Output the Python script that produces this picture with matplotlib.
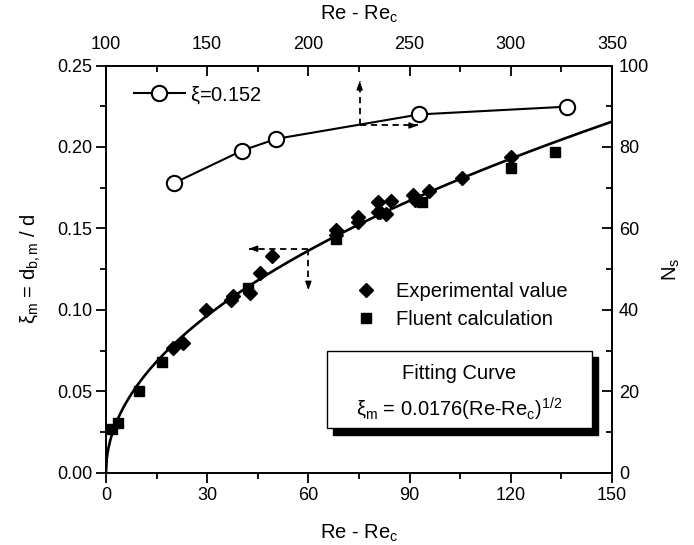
import numpy as np
import matplotlib
matplotlib.use('Agg')
import matplotlib.pyplot as plt
from matplotlib.patches import Rectangle
from matplotlib.ticker import MultipleLocator

plt.rcParams['font.family'] = ['Liberation Sans', 'DejaVu Sans']
plt.rcParams['mathtext.fontset'] = 'custom'
plt.rcParams['mathtext.rm'] = 'Liberation Sans'
plt.rcParams['mathtext.it'] = 'Liberation Sans'

# Experimental values (Re - Re_c, xi_m)
exp_x = [19.8, 22.9, 29.6, 37.0, 37.6, 42.7, 45.7, 49.1, 68.2, 68.2, 74.8, 74.8,
         80.7, 80.7, 81.2, 84.4, 83.0, 90.9, 91.6, 95.9, 105.5, 120.0]
exp_y = [0.0763, 0.0798, 0.0999, 0.106, 0.1085, 0.1102, 0.1224, 0.1332, 0.149, 0.146, 0.1572, 0.1541,
         0.1664, 0.1602, 0.160, 0.167, 0.159, 0.1705, 0.1674, 0.173, 0.1807, 0.1936]

# Fluent calculation
flu_x = [1.7, 3.6, 9.9, 16.5, 42.1, 68.2, 93.6, 120.0, 133.1]
flu_y = [0.0266, 0.0303, 0.0501, 0.0681, 0.1132, 0.1433, 0.1664, 0.1872, 0.1967]

# Ns vs Re - Re_c (top / right axes), xi = 0.152
ns_x = [133.5, 167.2, 184.2, 254.9, 327.6]
ns_y = [71.1, 79.1, 82.0, 88.0, 89.9]

fit_coef = 0.0176

fig = plt.figure(figsize=(6.94, 5.45), dpi=100)
pos = [0.1527, 0.1328, 0.7291, 0.7469]
ax = fig.add_axes(pos)
ax2 = fig.add_axes(pos, frameon=False)
ax2.set_facecolor('none')

xf = np.linspace(0, 150, 600)
ax.plot(xf, fit_coef * np.sqrt(xf), color='black', lw=1.9, zorder=2)
h_exp, = ax.plot(exp_x, exp_y, 'D', color='black', ms=7, ls='none', zorder=3)
h_flu, = ax.plot(flu_x, flu_y, 's', color='black', ms=7, ls='none', zorder=3)

h_ns, = ax2.plot(ns_x, ns_y, '-o', color='black', lw=1.5, ms=11, mfc='white', mew=1.5)

ax.set_xlim(0, 150)
ax.set_ylim(0, 0.25)
ax.xaxis.set_major_locator(MultipleLocator(30))
ax.xaxis.set_minor_locator(MultipleLocator(15))
ax.yaxis.set_major_locator(MultipleLocator(0.05))
ax.yaxis.set_minor_locator(MultipleLocator(0.025))
ax.yaxis.set_major_formatter(matplotlib.ticker.FormatStrFormatter('%.2f'))

ax2.set_xlim(100, 350)
ax2.set_ylim(0, 100)
ax2.xaxis.tick_top()
ax2.yaxis.tick_right()
ax2.xaxis.set_label_position('top')
ax2.yaxis.set_label_position('right')
ax2.xaxis.set_major_locator(MultipleLocator(50))
ax2.xaxis.set_minor_locator(MultipleLocator(25))
ax2.yaxis.set_major_locator(MultipleLocator(20))
ax2.yaxis.set_minor_locator(MultipleLocator(10))

for s in ax.spines.values():
    s.set_linewidth(1.4)

ax.tick_params(which='major', direction='out', length=7, width=1.3, labelsize=13, pad=3)
ax.tick_params(which='minor', direction='out', length=4, width=1.3)
ax2.tick_params(which='major', direction='in', length=7, width=1.3, labelsize=13, pad=5)
ax2.tick_params(axis='x', which='major', pad=9)
ax2.tick_params(which='minor', direction='in', length=4, width=1.3)

ax.set_xlabel('Re - Re$_\\mathregular{c}$', fontsize=14.5, labelpad=14)
ax.set_ylabel('$\\xi_\\mathregular{m}$ = d$_\\mathregular{b,m}$ / d', fontsize=14.5, labelpad=10)
ax2.set_xlabel('Re - Re$_\\mathregular{c}$', fontsize=14.5, labelpad=12)
ax2.set_ylabel('N$_\\mathregular{s}$', fontsize=14.5, labelpad=8)

# dashed guide arrows
def guide(x0, y0, x1, y1):
    ax.plot([x0, x1], [y0, y1], color='black', lw=1.3, ls=(0, (3.5, 2.5)), zorder=4)
    dx = (x1 - x0) * 0.12
    dy = (y1 - y0) * 0.12
    ax.annotate('', xy=(x1, y1), xytext=(x1 - dx, y1 - dy),
                arrowprops=dict(arrowstyle='-|>,head_length=0.5,head_width=0.18',
                                color='black', lw=1.0, shrinkA=0, shrinkB=0), zorder=4)

guide(60.0, 0.1375, 42.3, 0.1375)
guide(60.0, 0.1375, 60.0, 0.112)
guide(75.2, 0.2132, 75.2, 0.2405)
guide(75.2, 0.2132, 92.5, 0.2132)

# legends
ax.legend([h_exp, h_flu], ['Experimental value', 'Fluent calculation'],
          loc='upper left', bbox_to_anchor=(0.478, 0.487), frameon=False,
          fontsize=14.5, handlelength=1.0, handletextpad=1.0, labelspacing=0.42,
          borderaxespad=0)
ax2.legend([h_ns], ['$\\xi$=0.152'], loc='upper left', bbox_to_anchor=(0.04, 0.975),
           frameon=False, fontsize=14.5, handlelength=2.5, handletextpad=0.25, borderaxespad=0)

# fitting curve box with shadow
bx0, by0, bw, bh = 65.4, 0.0272, 78.6, 0.0477
ax.add_patch(Rectangle((bx0 + 1.8, by0 - 0.0039), bw, bh, facecolor='black',
                       edgecolor='black', zorder=5))
ax.add_patch(Rectangle((bx0, by0), bw, bh, facecolor='white',
                       edgecolor='black', lw=1.0, zorder=6))
ax.text(bx0 + bw / 2, by0 + bh * 0.7, 'Fitting Curve', ha='center', va='center',
        fontsize=14.5, zorder=7)
ax.text(bx0 + bw / 2, by0 + bh * 0.24,
        '$\\xi_\\mathregular{m}$ = 0.0176(Re-Re$_\\mathregular{c}$)$^\\mathregular{1/2}$',
        ha='center', va='center', fontsize=14.5, zorder=7)

fig.savefig('out.png', dpi=100)
